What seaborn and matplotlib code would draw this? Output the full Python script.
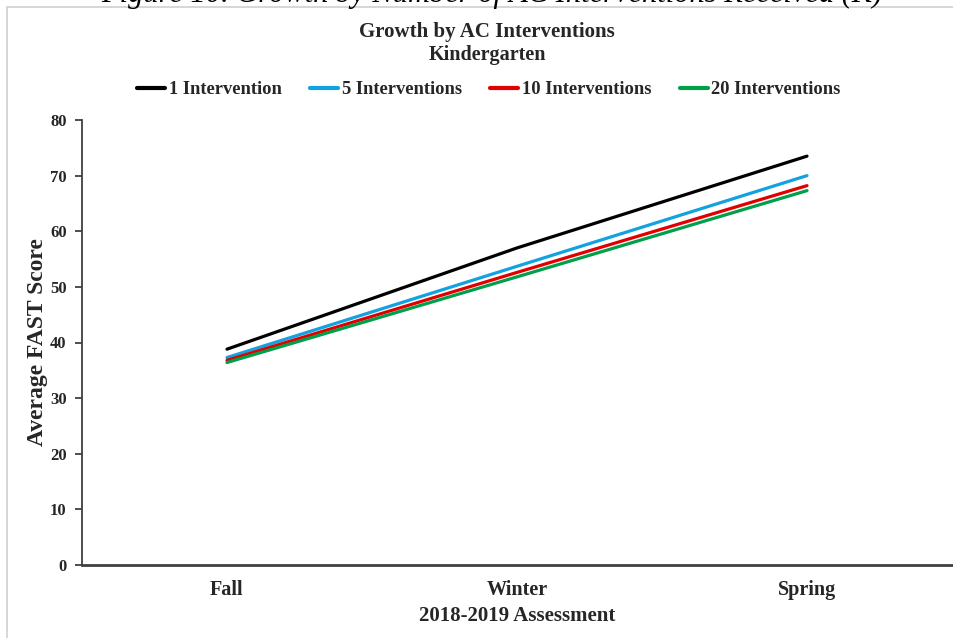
import matplotlib
matplotlib.use("Agg")
import matplotlib.pyplot as plt
from matplotlib.patches import Rectangle
import seaborn as sns
import pandas as pd

# Assessment windows and average FAST scores per intervention group
seasons = ["Fall", "Winter", "Spring"]
groups = ["1 Intervention", "5 Interventions", "10 Interventions", "20 Interventions"]
one_intervention = [38.8, 57.0, 73.5]
five_interventions = [37.3, 53.7, 70.0]
ten_interventions = [36.8, 52.6, 68.2]
twenty_interventions = [36.4, 51.8, 67.3]
y_ticks = [0, 10, 20, 30, 40, 50, 60, 70, 80]

colors = ["#000000", "#12A2E0", "#E00000", "#00A04A"]

rows = []
for name, vals in zip(groups, [one_intervention, five_interventions,
                               ten_interventions, twenty_interventions]):
    for s, v in zip(seasons, vals):
        rows.append({"Season": s, "Group": name, "Score": v})
df = pd.DataFrame(rows)

sns.set_theme(style="white")
plt.rcParams["font.family"] = ["Liberation Serif", "DejaVu Serif"]
plt.rcParams["font.weight"] = "bold"

W, H = 954, 638
fig = plt.figure(figsize=(W / 100, H / 100), dpi=100)
fig.patch.set_facecolor("white")

# light frame around the chart area
fig.patches.append(Rectangle((7 / W, -0.1), 1.2, 1 - 7 / H + 0.1,
                             transform=fig.transFigure, fill=False,
                             edgecolor="#D0D0D0", linewidth=1.2, zorder=0))

# caption sitting above the frame
fig.text(492 / W, 1 - 2 / H, "Figure 10. Growth by Number of AC Interventions Received (K)",
         ha="center", va="baseline", fontsize=22, fontstyle="italic",
         fontweight="normal", color="#000000")

ax = fig.add_axes([82 / W, 1 - 565 / H, (952 - 82) / W, (565 - 120) / H])
ax.set_facecolor("white")

sns.lineplot(data=df, x="Season", y="Score", hue="Group", hue_order=groups,
             palette=colors, linewidth=2.3, ax=ax, legend=False, sort=False)

ax.set_xlim(-0.5, 2.5)
ax.set_ylim(0, 80)
ax.set_yticks(y_ticks)
ax.set_yticklabels([str(t) for t in y_ticks])
ax.set_xticks(range(len(seasons)))
ax.set_xticklabels(seasons)

for side in ["top", "right"]:
    ax.spines[side].set_visible(False)
ax.spines["left"].set_color("#404040")
ax.spines["left"].set_linewidth(1.3)
ax.spines["bottom"].set_color("#404040")
ax.spines["bottom"].set_linewidth(2.0)

ax.tick_params(axis="y", which="both", left=True, length=5, width=1.3,
               color="#404040", labelsize=12, labelcolor="#262626", pad=6)
ax.tick_params(axis="x", which="both", bottom=False, labelsize=14.5,
               labelcolor="#262626", pad=5)
for lbl in ax.get_xticklabels() + ax.get_yticklabels():
    lbl.set_fontweight("bold")

ax.set_ylabel("Average FAST Score", fontsize=17, fontweight="bold",
              color="#262626", va="center")
ax.yaxis.set_label_coords((38 - 82) / 870, 0.5)
ax.set_xlabel("2018-2019 Assessment", fontsize=15, fontweight="bold",
              color="#262626", labelpad=4)
ax.grid(False)

fig.text(487 / W, 1 - 32 / H, "Growth by AC Interventions", ha="center", va="center",
         fontsize=15, fontweight="bold", color="#262626")
fig.text(487 / W, 1 - 55 / H, "Kindergarten", ha="center", va="center",
         fontsize=14.5, fontweight="bold", color="#262626")

handles = [plt.Line2D([0], [0], color=c, linewidth=3) for c in colors]
fig.legend(handles, groups, loc="center", bbox_to_anchor=(489 / W, 1 - 90 / H),
           ncol=4, frameon=False, handlelength=1.5,
           handletextpad=0.2, columnspacing=1.55,
           prop={"weight": "bold", "size": 13.3})

fig.savefig("out.png", dpi=100, facecolor="white")
